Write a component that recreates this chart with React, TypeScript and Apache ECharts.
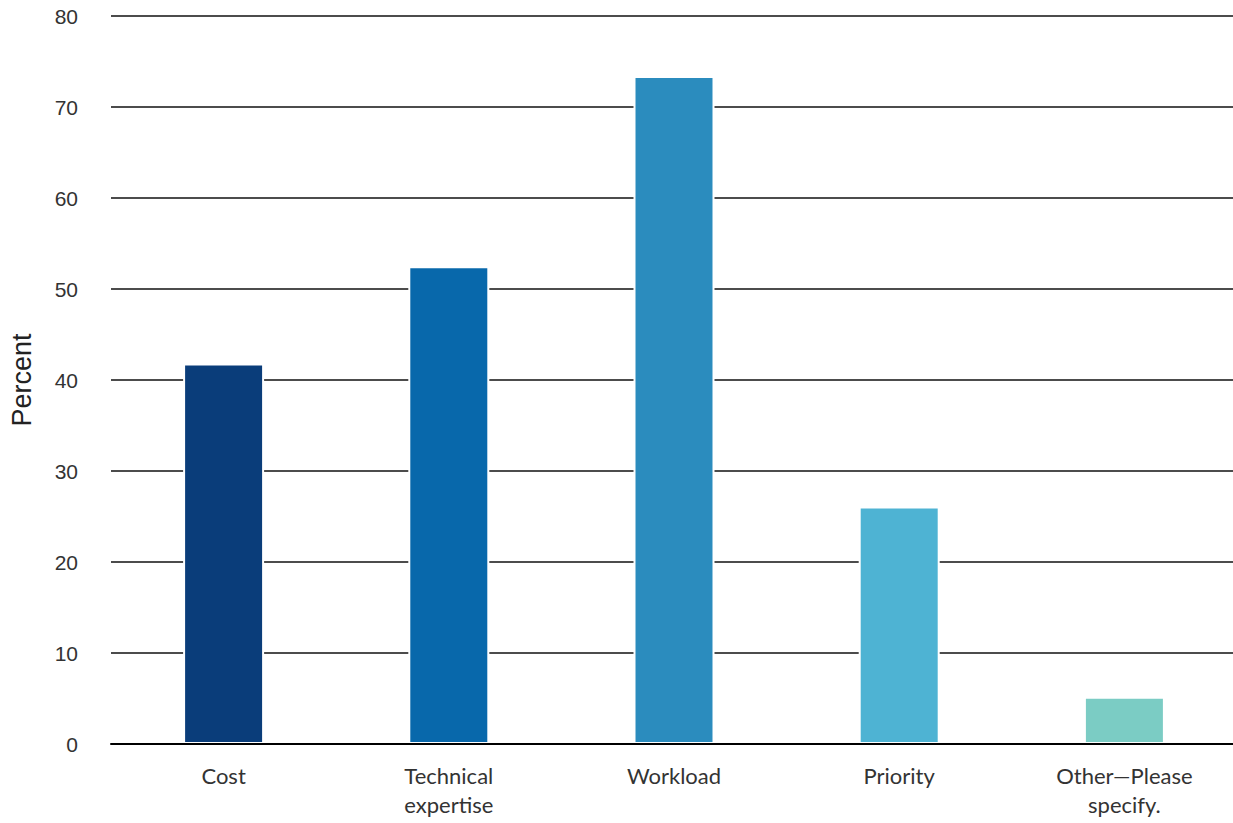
import React, { useEffect, useRef } from "react";
import * as echarts from "echarts";

const categories = ["Cost", "Technical\nexpertise", "Workload", "Priority", "Other—Please\nspecify."];
const values = [41.8, 52.5, 73.4, 26.1, 5.2];
const colors = ["#0a3d7a", "#0868ab", "#2b8cbe", "#4eb3d3", "#7bccc4"];
const yTicks = { min: 0, max: 80, interval: 10 };

export default function App() {
  const ref = useRef<HTMLDivElement>(null);
  useEffect(() => {
    if (!ref.current) return;
    const chart = echarts.init(ref.current, undefined, { renderer: "svg" });
    chart.setOption({
      animation: false,
      backgroundColor: "#ffffff",
      grid: {
        left: 111,
        width: 1126,
        top: 16,
        bottom: 79,
        containLabel: false,
        outerBoundsMode: "none",
      },
      xAxis: {
        type: "category",
        data: categories,
        z: 5,
        axisLine: { show: true, lineStyle: { color: "#000", width: 2 } },
        axisTick: { show: false },
        axisLabel: {
          color: "#333",
          fontFamily: "Lato",
          fontSize: 22,
          lineHeight: 29,
          margin: 17,
          interval: 0,
        },
      },
      yAxis: {
        type: "value",
        min: yTicks.min,
        max: yTicks.max,
        interval: yTicks.interval,
        name: "Percent",
        nameLocation: "middle",
        nameGap: 76,
        nameRotate: 90,
        nameTextStyle: { color: "#222", fontFamily: "Liberation Sans", fontSize: 27 },
        axisLine: { show: false },
        axisTick: { show: false },
        axisLabel: { color: "#333", fontFamily: "Liberation Sans", fontSize: 21, margin: 33 },
        splitLine: { lineStyle: { color: "#111", width: 1.5 } },
      },
      series: [
        {
          type: "bar",
          barWidth: 81,
          data: values.map((v, i) => ({
            value: v,
            itemStyle: { color: colors[i], borderColor: "#ffffff", borderWidth: 2 },
          })),
        },
      ],
    });
    return () => chart.dispose();
  }, []);
  return (
    <div
      ref={ref}
      style={{ position: "absolute", left: 0, top: 0, width: 1233, height: 823 }}
    />
  );
}
